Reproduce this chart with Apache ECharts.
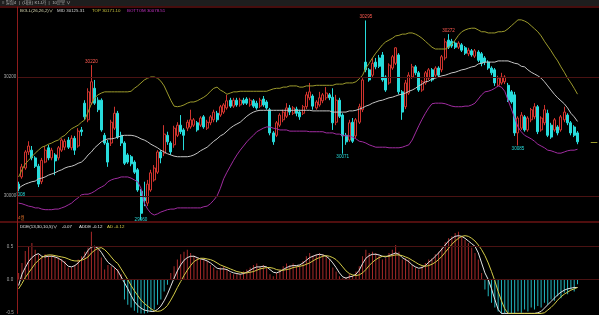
<!DOCTYPE html>
<html><head><meta charset="utf-8">
<script src="https://cdn.jsdelivr.net/npm/echarts@6/dist/echarts.min.js"></script>
<style>html,body{margin:0;padding:0;background:#000;overflow:hidden}#c{width:599px;height:315px}</style>
</head><body><div id="c"></div>
<script>
// [open, close, low, high]
const candles = [
[30020,30012,30008,30024],[30032,30049,30029,30054],[30047,30074,30044,30077],[30074,30084,30069,30092],[30077,30064,30060,30084],
[30064,30050,30047,30067],[30050,30020,30015,30054],[30024,30060,30020,30064],[30057,30077,30055,30084],[30081,30064,30060,30086],
[30064,30077,30060,30081],[30069,30059,30035,30072],[30064,30081,30060,30084],[30077,30094,30074,30097],[30082,30092,30077,30096],
[30094,30082,30079,30099],[30081,30097,30077,30102],[30097,30077,30069,30101],[30084,30109,30081,30114],[30111,30108,30101,30116],
[30156,30133,30128,30161],[30128,30175,30124,30181],[30156,30192,30153,30220],[30181,30156,30153,30195],[30161,30145,30141,30166],
[30161,30111,30108,30164],[30102,30089,30086,30106],[30089,30057,30049,30094],[30089,30124,30084,30128],[30114,30139,30111,30150],
[30139,30099,30096,30143],[30102,30089,30084,30108],[30089,30055,30052,30092],[30069,30057,30054,30072],[30066,30054,30050,30069],
[30057,30040,30037,30060],[30044,30010,30007,30047],[30008,29971,29960,30012],[29997,29992,29983,30024],[29988,30020,29983,30027],
[30010,30039,30007,30044],[30027,30047,30024,30052],[30040,30074,30037,30077],[30074,30064,30055,30077],[30072,30104,30067,30119],
[30102,30091,30086,30108],[30089,30074,30069,30092],[30086,30114,30081,30118],[30102,30119,30099,30124],[30119,30108,30104,30136],
[30111,30102,30077,30114],[30114,30124,30109,30128],[30116,30128,30113,30145],[30119,30128,30116,30131],[30123,30111,30108,30126],
[30119,30131,30116,30134],[30133,30116,30113,30136],[30114,30124,30111,30128],[30123,30133,30119,30136],[30128,30141,30124,30145],
[30139,30128,30124,30143],[30136,30150,30133,30153],[30141,30153,30138,30156],[30148,30160,30145,30170],[30161,30151,30148,30165],
[30151,30161,30148,30165],[30161,30153,30150,30165],[30153,30161,30150,30165],[30161,30156,30153,30165],[30163,30156,30153,30166],
[30153,30161,30150,30165],[30160,30151,30148,30163],[30156,30148,30145,30160],[30151,30161,30148,30165],[30163,30153,30150,30168],
[30158,30148,30145,30161],[30145,30106,30102,30148],[30106,30091,30086,30109],[30102,30123,30099,30126],[30119,30136,30116,30139],
[30128,30141,30124,30145],[30134,30148,30131,30156],[30148,30141,30136,30153],[30139,30148,30136,30151],[30146,30139,30134,30150],
[30141,30133,30128,30145],[30139,30150,30136,30153],[30150,30170,30146,30175],[30165,30175,30161,30190],[30168,30151,30145,30171],
[30148,30158,30145,30161],[30153,30165,30150,30175],[30160,30170,30156,30173],[30165,30173,30161,30183],[30170,30165,30161,30173],
[30166,30123,30111,30181],[30124,30161,30119,30170],[30161,30134,30131,30165],[30136,30101,30071,30139],[30102,30091,30086,30106],
[30094,30123,30091,30128],[30124,30092,30089,30131],[30101,30128,30097,30131],[30124,30150,30121,30155],[30145,30195,30141,30198],
[30225,30212,30208,30295],[30212,30195,30192,30215],[30203,30223,30198,30232],[30225,30217,30213,30232],[30232,30218,30215,30237],
[30237,30195,30192,30242],[30200,30178,30175,30203],[30190,30220,30187,30223],[30215,30234,30212,30237],[30223,30249,30220,30250],
[30237,30175,30171,30240],[30175,30141,30128,30178],[30150,30190,30146,30195],[30173,30203,30170,30208],[30200,30217,30197,30222],
[30217,30207,30203,30220],[30207,30178,30175,30210],[30178,30192,30175,30195],[30190,30207,30187,30210],[30198,30212,30195,30215],
[30212,30195,30192,30215],[30203,30215,30200,30218],[30215,30203,30200,30218],[30212,30234,30208,30237],[30232,30259,30228,30265],
[30262,30250,30247,30272],[30260,30252,30249,30264],[30257,30250,30247,30260],[30250,30257,30247,30260],[30254,30245,30242,30257],
[30249,30240,30237,30252],[30239,30245,30235,30249],[30244,30237,30234,30247],[30235,30244,30232,30247],[30242,30228,30225,30245],
[30239,30223,30218,30242],[30232,30225,30220,30235],[30225,30215,30212,30228],[30215,30207,30203,30218],[30212,30190,30185,30215],
[30186,30198,30183,30202],[30190,30200,30187,30207],[30192,30200,30188,30203],[30186,30161,30158,30190],[30175,30158,30155,30178],
[30170,30106,30101,30175],[30106,30131,30085,30134],[30114,30136,30111,30141],[30133,30111,30108,30136],[30111,30131,30108,30134],
[30128,30145,30124,30148],[30133,30150,30129,30156],[30150,30108,30104,30153],[30111,30131,30108,30134],[30123,30145,30119,30153],
[30139,30102,30099,30145],[30119,30099,30096,30123],[30111,30128,30108,30131],[30116,30106,30102,30119],[30111,30133,30108,30136],
[30128,30141,30124,30150],[30136,30123,30119,30139],[30123,30106,30102,30126],[30116,30102,30099,30119],[30106,30091,30087,30109]
];
const bollTop = [
30032,30044,30054,30060,30066,30072,30077,30082,30084,30087,
30089,30092,30094,30099,30102,30108,30113,30116,30119,30124,
30128,30141,30155,30165,30170,30173,30175,30175,30175,30175,
30175,30175,30175,30175,30176,30181,30185,30190,30195,30198,
30200,30200,30198,30193,30185,30173,30161,30151,30150,30151,
30153,30156,30158,30158,30160,30163,30166,30170,30176,30181,
30183,30178,30175,30171,30173,30175,30175,30176,30176,30176,
30176,30176,30176,30176,30176,30176,30178,30180,30181,30181,
30183,30183,30185,30185,30185,30183,30183,30185,30185,30185,
30186,30186,30186,30186,30186,30186,30188,30188,30188,30190,
30190,30190,30192,30197,30203,30215,30223,30232,30240,30247,
30254,30259,30262,30265,30269,30270,30272,30272,30274,30274,
30272,30269,30265,30260,30255,30250,30247,30247,30247,30247,
30250,30255,30262,30270,30276,30279,30281,30282,30282,30279,
30276,30276,30274,30274,30274,30276,30276,30277,30281,30286,
30291,30296,30296,30294,30291,30286,30281,30276,30269,30260,
30252,30244,30235,30227,30217,30208,30198,30190,30181,30171.10
];
const bollMid = [
30013,30017,30020,30022,30024,30025,30029,30030,30032,30035,
30037,30039,30042,30044,30047,30049,30050,30052,30055,30057,
30062,30069,30074,30081,30086,30091,30094,30096,30096,30097,
30099,30101,30102,30102,30102,30101,30099,30096,30094,30091,
30087,30084,30081,30077,30074,30071,30069,30067,30066,30066,
30066,30066,30067,30069,30072,30076,30079,30082,30087,30092,
30096,30101,30104,30109,30114,30118,30121,30124,30129,30134,
30138,30141,30143,30144,30144,30144,30144,30144,30144,30144,
30144,30144,30144,30144,30144,30144,30144,30144,30144,30143,
30143,30143,30143,30143,30143,30141,30141,30141,30141,30141,
30143,30143,30144,30146,30148,30151,30153,30156,30158,30160,
30161,30163,30165,30166,30168,30170,30171,30173,30176,30178,
30181,30185,30188,30192,30193,30197,30198,30200,30202,30203,
30205,30207,30208,30210,30212,30213,30215,30217,30218,30222,
30223,30225,30225,30225,30225,30227,30227,30227,30227,30225,
30223,30222,30218,30217,30212,30208,30205,30202,30198,30192,
30185,30178,30171,30165,30160,30155,30148,30139,30133,30125.31
];
const bollBottom = [
29988,29987,29985,29983,29982,29980,29980,29978,29977,29977,
29977,29978,29978,29980,29982,29985,29988,29993,29997,30002,
30003,30003,30005,30008,30012,30015,30018,30024,30027,30029,
30030,30032,30032,30032,30030,30027,30024,30013,29988,29978,
29971,29968,29970,29973,29975,29977,29978,29978,29980,29980,
29980,29980,29980,29980,29980,29980,29982,29983,29987,29993,
30000,30013,30029,30040,30050,30060,30069,30077,30084,30091,
30097,30102,30108,30111,30114,30116,30116,30114,30113,30111,
30111,30111,30109,30109,30109,30109,30109,30109,30108,30108,
30108,30108,30108,30106,30106,30106,30104,30104,30102,30101,
30101,30099,30096,30092,30091,30089,30086,30084,30082,30082,
30082,30082,30081,30081,30081,30081,30082,30084,30086,30094,
30106,30118,30129,30139,30148,30155,30156,30156,30156,30155,
30153,30151,30150,30150,30150,30151,30151,30153,30156,30163,
30170,30175,30176,30178,30181,30185,30183,30176,30161,30146,
30131,30116,30108,30102,30099,30096,30092,30087,30084,30081,
30077,30076,30074,30072,30072,30074,30076,30077,30077,30078.51
];
const ddeHist = [
0.10,0.25,0.43,0.50,0.55,0.45,0.38,0.35,0.38,0.36,
0.37,0.34,0.33,0.31,0.28,0.18,0.18,0.22,0.30,0.35,
0.42,0.48,0.72,0.50,0.46,0.33,0.15,0.22,0.20,0.18,
0.16,0.08,-0.30,-0.38,-0.42,-0.47,-0.50,-0.51,-0.51,-0.50,
-0.48,-0.45,-0.38,-0.30,-0.18,-0.08,0.10,0.20,0.30,0.38,
0.42,0.45,0.40,0.36,0.33,0.30,0.32,0.28,0.22,0.18,
0.14,0.18,0.20,0.15,0.10,0.08,0.10,0.08,0.12,0.15,
0.18,0.22,0.24,0.20,0.22,0.18,0.08,0.05,0.10,0.15,
0.20,0.24,0.22,0.24,0.20,0.22,0.28,0.35,0.40,0.36,
0.38,0.40,0.38,0.35,0.30,0.18,0.12,0.05,0.02,0.04,
0.08,0.06,0.12,0.20,0.35,0.45,0.40,0.42,0.40,0.36,
0.30,0.32,0.40,0.45,0.52,0.42,0.30,0.32,0.30,0.22,
0.18,0.15,0.20,0.25,0.30,0.32,0.38,0.42,0.48,0.56,
0.62,0.65,0.70,0.72,0.65,0.60,0.55,0.48,0.40,0.30,
0.10,-0.15,-0.25,-0.35,-0.42,-0.48,-0.51,-0.51,-0.50,-0.51,
-0.51,-0.48,-0.50,-0.45,-0.48,-0.42,-0.45,-0.40,-0.42,-0.35,
-0.38,-0.30,-0.32,-0.25,-0.28,-0.20,-0.22,-0.15,-0.18,-0.07
];
const addeLine = [
-0.09,0.08,0.18,0.27,0.33,0.37,0.39,0.35,0.34,0.35,
0.35,0.34,0.32,0.29,0.25,0.20,0.19,0.21,0.25,0.30,
0.36,0.44,0.49,0.50,0.47,0.41,0.33,0.26,0.22,0.18,
0.13,0.04,-0.05,-0.14,-0.24,-0.33,-0.39,-0.43,-0.46,-0.47,
-0.48,-0.48,-0.45,-0.40,-0.32,-0.22,-0.10,0.02,0.13,0.22,
0.29,0.33,0.35,0.35,0.33,0.31,0.30,0.28,0.25,0.21,
0.17,0.16,0.16,0.15,0.12,0.10,0.09,0.08,0.09,0.11,
0.14,0.17,0.19,0.19,0.20,0.19,0.15,0.11,0.10,0.12,
0.15,0.18,0.20,0.21,0.21,0.22,0.25,0.29,0.33,0.35,
0.37,0.38,0.37,0.35,0.31,0.25,0.18,0.10,0.04,0.02,
0.04,0.05,0.08,0.14,0.24,0.32,0.36,0.38,0.38,0.37,
0.35,0.34,0.36,0.38,0.40,0.38,0.33,0.30,0.27,0.22,
0.19,0.17,0.18,0.21,0.26,0.30,0.35,0.40,0.46,0.52,
0.58,0.62,0.65,0.66,0.65,0.62,0.58,0.54,0.50,0.40,
0.25,0.10,0.00,-0.14,-0.30,-0.45,-0.51,-0.51,-0.51,-0.51,
-0.51,-0.51,-0.51,-0.51,-0.51,-0.51,-0.51,-0.50,-0.48,-0.43,
-0.38,-0.33,-0.28,-0.23,-0.19,-0.16,-0.14,-0.13,-0.12,-0.12
];
const adLine = [
-0.14,-0.06,0.03,0.10,0.17,0.24,0.29,0.33,0.36,0.37,
0.37,0.36,0.35,0.34,0.33,0.31,0.29,0.28,0.28,0.29,
0.31,0.34,0.40,0.44,0.47,0.48,0.45,0.40,0.34,0.28,
0.24,0.16,0.08,0.00,-0.09,-0.17,-0.24,-0.31,-0.36,-0.40,
-0.44,-0.47,-0.48,-0.47,-0.44,-0.39,-0.31,-0.22,-0.12,-0.03,
0.06,0.14,0.21,0.27,0.30,0.32,0.32,0.31,0.30,0.28,
0.25,0.22,0.20,0.18,0.16,0.14,0.12,0.11,0.10,0.10,
0.11,0.12,0.14,0.16,0.17,0.18,0.18,0.17,0.15,0.14,
0.14,0.15,0.16,0.18,0.19,0.20,0.21,0.23,0.25,0.28,
0.31,0.33,0.35,0.36,0.35,0.33,0.30,0.25,0.19,0.13,
0.09,0.07,0.06,0.07,0.10,0.15,0.21,0.26,0.30,0.33,
0.35,0.35,0.35,0.36,0.37,0.37,0.36,0.34,0.32,0.29,
0.26,0.23,0.21,0.20,0.21,0.23,0.26,0.30,0.35,0.41,
0.47,0.53,0.58,0.62,0.65,0.66,0.65,0.62,0.58,0.52,
0.45,0.36,0.25,0.12,-0.02,-0.18,-0.32,-0.44,-0.51,-0.51,
-0.51,-0.51,-0.51,-0.51,-0.51,-0.51,-0.51,-0.51,-0.51,-0.50,
-0.46,-0.42,-0.37,-0.31,-0.26,-0.22,-0.19,-0.16,-0.14,-0.12
];
const priceTicks = [30000, 30200];
const ddeTicks = [-0.5, 0, 0.5];
const highLabelIdx = [22, 105, 130];
const lowLabelIdx = [0, 37, 98, 151];
const slotCount = 176;

const FONT = "'Liberation Sans','Noto Sans CJK KR',sans-serif";
const RED = '#d0342e', CYAN = '#27dcdc';
const cats = [];
for (let i = 0; i < slotCount; i++) cats.push(i < candles.length ? String(i) : '');
const last = candles.length - 1;
const lastClose = candles[last][1];

const markPts = [];
highLabelIdx.forEach(i => markPts.push({coord: [i, candles[i][3]], value: candles[i][3],
  label: {position: 'top', distance: 1, color: '#ff5a50'}}));
lowLabelIdx.forEach(i => {
  const v = candles[i][2];
  markPts.push({coord: [i, v], value: v,
    label: v < 29965 ? {position: 'inside', color: CYAN} : {position: 'bottom', distance: 1, color: CYAN}});
});

const chart = echarts.init(document.getElementById('c'), null, {renderer: 'canvas'});
const LF = '4.4px ' + FONT;
const txt = (id, x, y, t, color) => ({id, type: 'text', left: x, top: y, z: 20,
  style: {text: t, fill: color, font: LF}});
const axisLbl = (vals, fmt) => ({customValues: vals, color: '#a8a8a8', fontSize: 4.5, fontFamily: FONT,
  align: 'center', margin: 7, formatter: fmt});
const option = {
  backgroundColor: '#000',
  animation: false,
  grid: [{left: 17, right: 0, top: 7, height: 215}, {left: 17, right: 0, top: 222, height: 93}],
  xAxis: [
    {type: 'category', gridIndex: 0, data: cats, boundaryGap: true, show: false},
    {type: 'category', gridIndex: 1, data: cats, boundaryGap: true, show: false}
  ],
  yAxis: [
    {type: 'value', gridIndex: 0, min: 29956.3, max: 30317.6, zlevel: 2,
      axisLine: {show: true, lineStyle: {color: '#8e1c1c', width: 1}}, axisTick: {show: false}, splitLine: {show: false},
      axisLabel: axisLbl(priceTicks, v => String(Math.round(v)))},
    {type: 'value', gridIndex: 1, min: -0.51, max: 0.866, zlevel: 2,
      axisLine: {show: true, lineStyle: {color: '#8e1c1c', width: 1}}, axisTick: {show: false}, splitLine: {show: false},
      axisLabel: axisLbl(ddeTicks, v => v.toFixed(1))}
  ],
  series: [
    {type: 'candlestick', xAxisIndex: 0, yAxisIndex: 0, data: candles, barWidth: 2.5, z: 3,
      itemStyle: {color: '#000', color0: CYAN, borderColor: RED, borderColor0: CYAN, borderWidth: 1},
      markLine: {silent: true, symbol: ['none', 'none'], label: {show: false}, animation: false,
        lineStyle: {color: '#4a1212', type: 'solid', width: 1},
        data: priceTicks.map(v => ({yAxis: v})).concat([[
          {coord: [173, lastClose], lineStyle: {color: '#9a9a2e', width: 1}}, {coord: [175, lastClose]}]])},
      markPoint: {symbol: 'circle', symbolSize: 0, animation: false,
        label: {show: true, fontSize: 4.6, fontFamily: FONT, formatter: p => String(p.value)}, data: markPts}},
    {type: 'line', xAxisIndex: 0, yAxisIndex: 0, data: bollMid, symbol: 'none', z: 4,
      lineStyle: {color: '#c4c4c4', width: 1}},
    {type: 'line', xAxisIndex: 0, yAxisIndex: 0, data: bollTop, symbol: 'none', z: 4,
      lineStyle: {color: '#9c9a2c', width: 1}},
    {type: 'line', xAxisIndex: 0, yAxisIndex: 0, data: bollBottom, symbol: 'none', z: 4,
      lineStyle: {color: '#a02ca0', width: 1}},
    {type: 'bar', xAxisIndex: 1, yAxisIndex: 1, barWidth: 1, z: 3,
      data: ddeHist.map(v => ({value: v, itemStyle: {color: v >= 0 ? '#a82a2a' : '#22b8c0'}})),
      markLine: {silent: true, symbol: ['none', 'none'], label: {show: false}, animation: false,
        lineStyle: {color: '#4a1212', type: 'solid', width: 1}, data: [{yAxis: 0.5}, {yAxis: 0}]}},
    {type: 'line', xAxisIndex: 1, yAxisIndex: 1, data: addeLine, symbol: 'none', z: 4,
      lineStyle: {color: '#e4e4e4', width: 1}},
    {type: 'line', xAxisIndex: 1, yAxisIndex: 1, data: adLine, symbol: 'none', z: 4,
      lineStyle: {color: '#d4cc48', width: 1}}
  ],
  graphic: {elements: [
    {id: 'mask', type: 'rect', left: 0, top: 7.5, zlevel: 1, z: 1, shape: {width: 16.5, height: 214}, style: {fill: '#000'}},
    {id: 'hdr', type: 'rect', left: 0, top: 0, zlevel: 1, z: 20, shape: {width: 599, height: 6}, style: {fill: '#1e1e1e'}},
    Object.assign(txt('hdrt', 2, 0.8, '≡ 밀립4  |  (대표) K1J가  |  10분봉 ∨', '#b8b8b8'), {zlevel: 1}),
    {id: 'topline', type: 'rect', left: 0, top: 6.5, zlevel: 1, z: 20, shape: {width: 599, height: 1}, style: {fill: '#8e1a1a'}},
    {id: 'sepline', type: 'rect', left: 0, top: 221.5, zlevel: 1, z: 20, shape: {width: 599, height: 1}, style: {fill: '#a01c1c'}},
    txt('b1', 20, 8.6, 'BOLL(26,26,2)∨', '#d8d8b0'),
    txt('b2', 57, 8.6, 'MID ' + bollMid[last].toFixed(2), '#d4d4d4'),
    txt('b3', 92, 8.6, 'TOP ' + bollTop[last].toFixed(2), '#c8c040'),
    txt('b4', 127, 8.6, 'BOTTOM ' + bollBottom[last].toFixed(2), '#c434c4'),
    txt('d1', 20, 224.4, 'DDE(13,30,10,5)∨', '#e0e0e0'),
    txt('d2', 62, 224.4, ddeHist[last].toFixed(2), '#e0e0e0'),
    txt('d3', 79, 224.4, 'ADDE ' + addeLine[last].toFixed(2), '#e0e0e0'),
    txt('d4', 107, 224.4, 'AD ' + adLine[last].toFixed(2), '#d4cc48'),
    txt('mon', 18, 215.5, '4월', '#e07028')
  ]}
};
chart.setOption(option);
</script></body></html>
